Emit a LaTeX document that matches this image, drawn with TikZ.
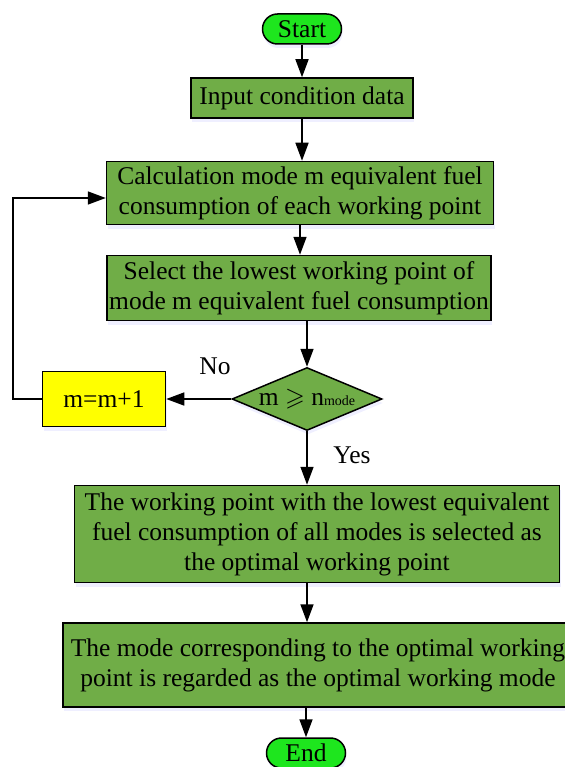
\documentclass[tikz,border=0pt]{standalone}
\usepackage{amssymb}
\usepackage{fontspec}
\setmainfont{Liberation Serif}
\usetikzlibrary{arrows.meta, positioning, shapes.geometric, shadows}
\definecolor{fcGreen}{HTML}{70AD47}
\definecolor{fcLime}{HTML}{1EE61E}
\definecolor{fcYellow}{HTML}{FFFF00}
\newcommand{\fcsize}{\fontsize{25.5}{30}\selectfont}
\tikzset{
  fcshade/.style={drop shadow={shadow xshift=1pt, shadow yshift=-4pt,
                  fill=blue!25, opacity=0.25}},
  fcbox/.style={draw, line width=1.5pt, fill=fcGreen, align=center,
                inner sep=2pt, fcshade},
  fcterm/.style={draw, line width=1.5pt, fill=fcLime, rounded corners=15pt,
                 minimum width=79pt, minimum height=30pt, inner sep=0pt, fcshade},
  fcdec/.style={draw, diamond, line width=1.5pt, fill=fcGreen, inner sep=0pt,
                minimum width=150pt, minimum height=63pt, fcshade},
  fcinc/.style={draw, line width=1.5pt, fill=fcYellow, inner sep=2pt,
                minimum width=123pt, minimum height=55pt, fcshade},
  fcarrow/.style={line width=1.6pt, -{Triangle[length=18pt, width=13pt]}},
}

\begin{document}
\begin{tikzpicture}[x=1pt, y=-1pt, font=\fcsize]
  \useasboundingbox (0,0) rectangle (564,767);
  \node[fcterm] (start) at (302,29) {Start};
  \node[fcbox, minimum width=222pt, minimum height=40pt] (input) at (302,98)
    {Input condition data};
  \node[fcbox, minimum width=387pt, minimum height=63pt] (calc) at (300,193)
    {Calculation mode m equivalent fuel\\consumption of each working point};
  \node[fcbox, minimum width=384pt, minimum height=65pt] (select) at (299,288)
    {Select the lowest working point of\\mode m equivalent fuel consumption};
  \node[fcdec, label=center:{m $\geqslant$ n{\fontsize{14}{14}\selectfont mode}}]
    (dec) at (307,399) {};
  \node[fcinc] (inc) at (104,399) {m=m+1};
  \node[fcbox, minimum width=485pt, minimum height=97pt] (work) at (317,534)
    {The working point with the lowest equivalent\\fuel consumption of all modes is selected as\\the optimal working point};
  \node[fcbox, minimum width=510pt, minimum height=84pt] (best) at (318,665)
    {The mode corresponding to the optimal working\\point is regarded as the optimal working mode};
  \node[fcterm] (end) at (306,753) {End};
  \node (no) at (215,366) {No};
  \node (yes) at (352,455) {Yes};

  \draw[fcarrow] (start) -- (start |- input.north);
  \draw[fcarrow] (input) -- (input |- calc.north);
  \draw[fcarrow] (calc) -- (calc |- select.north);
  \draw[fcarrow] (select.south -| dec) -- (dec.north);
  \draw[fcarrow] (dec.west) -- (inc.east);
  \draw[fcarrow] (inc.west) -- ++(-29,0) |- ([yshift=-5pt]calc.west);
  \draw[fcarrow] (dec.south) -- (dec.south |- work.north);
  \draw[fcarrow] (work.south -| dec) -- (dec |- best.north);
  \draw[fcarrow] (best.south -| end) -- (end.north);
\end{tikzpicture}
\end{document}
